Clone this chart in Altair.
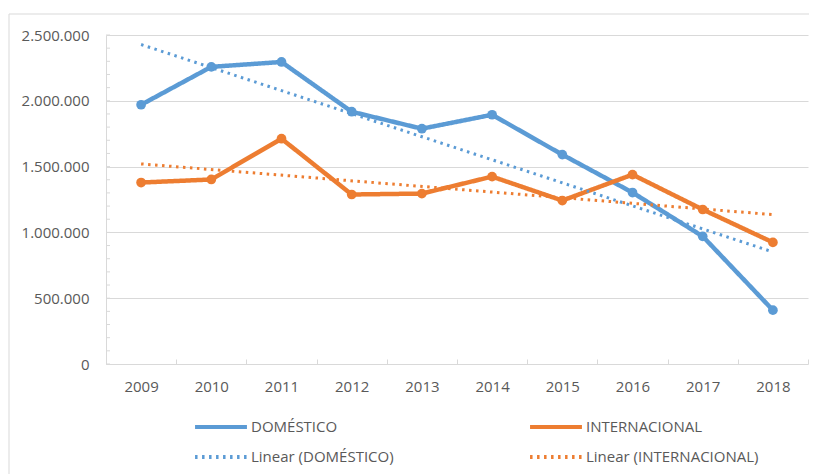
import altair as alt
import pandas as pd

years = [2009, 2010, 2011, 2012, 2013, 2014, 2015, 2016, 2017, 2018]
domestico = [1970000, 2258000, 2295000, 1917000, 1788000, 1894000, 1591000, 1303000, 970000, 409000]
internacional = [1379000, 1402000, 1712000, 1288000, 1295000, 1424000, 1242000, 1439000, 1174000, 924000]
series_names = ["DOMÉSTICO", "INTERNACIONAL"]
legend_order = ["DOMÉSTICO", "INTERNACIONAL", "Linear (DOMÉSTICO)", "Linear (INTERNACIONAL)"]
y_ticks = [0, 500000, 1000000, 1500000, 2000000, 2500000]
minor_ticks = list(range(0, 2500001, 100000))

BLUE = "#5B9BD5"
ORANGE = "#ED7D31"
GRID = "#d9d9d9"
TEXT = "#595959"
FONT = "Open Sans"

rows = []
for y, d, i in zip(years, domestico, internacional):
    rows.append({"year": y, "series": series_names[0], "value": d})
    rows.append({"year": y, "series": series_names[1], "value": i})
df = pd.DataFrame(rows)


def make_legend():
    return alt.Legend(title=None, orient="none", legendX=98, legendY=375, columns=2,
                      direction="horizontal",
                      symbolType="M-1.73,0L1.73,0", symbolSize=900, symbolStrokeWidth=4,
                      labelFont=FONT, labelFontSize=15, labelColor=TEXT, labelLimit=400,
                      labelOffset=13, columnPadding=128, rowPadding=5, padding=0)


color = alt.Color("series:N", scale=alt.Scale(domain=legend_order, range=[BLUE, ORANGE, BLUE, ORANGE]),
                  legend=make_legend())
dash = alt.StrokeDash("series:N", scale=alt.Scale(domain=legend_order,
                                                  range=[[1, 0], [1, 0], [2.5, 4.5], [2.5, 4.5]]),
                      legend=make_legend())

x_enc = alt.X("year:O", bandPosition=0.5,
              scale=alt.Scale(type="band", paddingInner=0, paddingOuter=0),
              axis=alt.Axis(title=None, labelAngle=0, domain=False, grid=False, tickBand="extent",
                            tickSize=5, offset=-5, tickColor=GRID, labelPadding=15,
                            labelFont=FONT, labelFontSize=15, labelColor=TEXT))
y_enc = alt.Y("value:Q", scale=alt.Scale(domain=[0, 2500000], nice=False),
              axis=alt.Axis(title=None, values=y_ticks, format=",.0f", grid=True, gridColor=GRID,
                            domain=True, domainColor=GRID, ticks=False, labelPadding=17,
                            labelFont=FONT, labelFontSize=15, labelColor=TEXT))

base = alt.Chart(df)

lines = base.mark_line(strokeWidth=4.5).encode(x=x_enc, y=y_enc, color=color, strokeDash=dash)
points = base.mark_circle(size=95, opacity=1).encode(
    x=x_enc, y=y_enc,
    color=alt.Color("series:N", scale=alt.Scale(domain=legend_order, range=[BLUE, ORANGE, BLUE, ORANGE]), legend=None))
trend = base.transform_regression("year", "value", groupby=["series"]).transform_calculate(
    series="'Linear (' + datum.series + ')'"
).mark_line(strokeWidth=3).encode(x=x_enc, y=y_enc, color=color, strokeDash=dash)

minor = alt.Chart(pd.DataFrame({"v": minor_ticks})).mark_rule(color=GRID, strokeWidth=1).encode(
    x=alt.value(0), x2=alt.value(4), y=alt.Y("v:Q"))

border = alt.Chart(pd.DataFrame({"a": [0]})).mark_rect(fillOpacity=0, stroke=GRID, strokeWidth=1).encode(
    x=alt.value(-97), x2=alt.value(900), y=alt.value(-21), y2=alt.value(600))

chart = alt.layer(border, minor, lines, trend, points).properties(
    width=702, height=329,
    autosize=alt.AutoSizeParams(type="none"),
    padding={"left": 98, "top": 27, "right": 1, "bottom": 110},
).configure(
    locale=alt.Locale(number=alt.NumberLocale(decimal=",", thousands=".", grouping=[3], currency=["", ""]))
).configure_view(stroke=None)

chart.save("out.html", embed_options={"renderer": "svg", "actions": False})
